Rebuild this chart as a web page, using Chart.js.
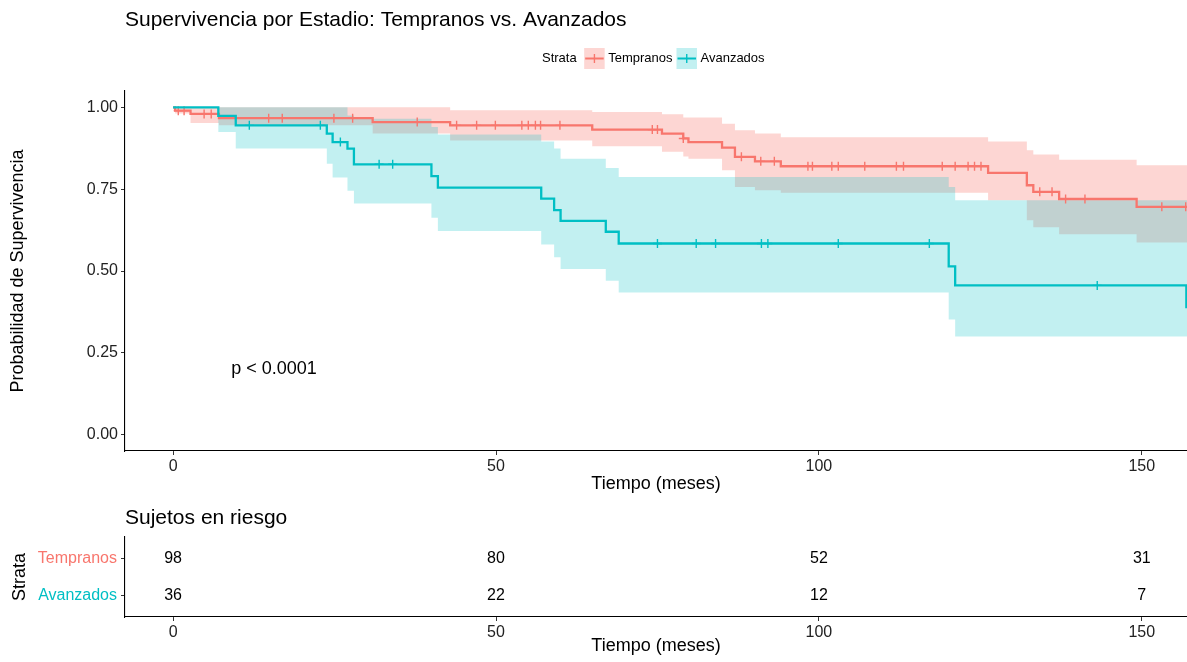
<!DOCTYPE html>
<html>
<head>
<meta charset="utf-8">
<script src="https://cdn.jsdelivr.net/npm/chart.js@4"></script>
<style>
  body { margin: 0; background: #fff; }
  #main { position: absolute; left: 0; top: 0; width: 1187px; height: 500px; }
  #risk { position: absolute; left: 0; top: 500px; width: 1187px; height: 162px; }
</style>
</head>
<body>
<div id="main"><canvas id="km"></canvas></div>
<div id="risk"><canvas id="rt"></canvas></div>
<script>
const FONT = '"Liberation Sans", Arial, Helvetica, sans-serif';
const RED = '#F8766D';
const TEAL = '#00BFC4';
const RED_BAND = 'rgba(248, 118, 109, 0.3)';
const TEAL_BAND = 'rgba(0, 191, 196, 0.24)';

const strata = ['Tempranos', 'Avanzados'];

// Tempranos: tiempos de evento, supervivencia e IC
const tempTime  = [0, 0.3, 2.7, 7.1, 30.9, 42.9, 64.9, 75.7, 79.0, 79.8, 85.0, 87.0, 90.1, 94.1, 126.2, 132.2, 133.2, 137.2, 149.2, 157.0];
const tempSurv  = [1.000, 0.990, 0.980, 0.967, 0.955, 0.945, 0.932, 0.920, 0.905, 0.894, 0.877, 0.849, 0.835, 0.820, 0.800, 0.762, 0.742, 0.720, 0.696, 0.696];
const tempUpper = [1.000, 1.000, 1.000, 1.000, 1.000, 0.991, 0.986, 0.979, 0.969, 0.969, 0.950, 0.930, 0.920, 0.909, 0.896, 0.869, 0.856, 0.840, 0.823, 0.823];
const tempLower = [1.000, 0.981, 0.952, 0.945, 0.920, 0.899, 0.881, 0.864, 0.850, 0.843, 0.808, 0.757, 0.747, 0.739, 0.716, 0.655, 0.634, 0.612, 0.587, 0.587];
const tempCens  = [0.8, 1.7, 4.8, 5.9, 14.8, 16.9, 24.9, 27.8, 37.8, 43.9, 47.0, 49.9, 54.0, 55.0, 56.1, 56.9, 59.9, 74.2, 75.0, 79.0, 88.0, 91.0, 93.1, 98.3, 99.0, 102.0, 103.0, 107.1, 112.0, 113.1, 119.1, 121.1, 123.1, 124.1, 125.1, 134.2, 136.1, 138.2, 141.2, 153.1, 156.8];

// Avanzados
const avzTime  = [0, 7.0, 9.7, 23.8, 24.7, 27.0, 28.0, 40.0, 41.0, 57.0, 59.0, 60.0, 67.0, 69.0, 120.1, 121.1, 156.9, 157.0];
const avzSurv  = [1.000, 0.974, 0.945, 0.920, 0.894, 0.874, 0.826, 0.790, 0.755, 0.721, 0.686, 0.653, 0.620, 0.584, 0.514, 0.456, 0.390, 0.390];
const avzUpper = [1.000, 1.000, 1.000, 1.000, 1.000, 0.975, 0.965, 0.940, 0.917, 0.896, 0.874, 0.843, 0.815, 0.787, 0.757, 0.716, 0.716, 0.716];
const avzLower = [1.000, 0.925, 0.874, 0.828, 0.786, 0.745, 0.706, 0.663, 0.622, 0.581, 0.542, 0.506, 0.470, 0.434, 0.352, 0.300, 0.300, 0.300];
const avzCens  = [11.8, 22.8, 25.9, 31.9, 34.0, 75.0, 81.0, 84.0, 91.1, 92.1, 103.0, 117.1, 143.1];

const xTicks = [0, 50, 100, 150];
const yTicks = [0, 0.25, 0.5, 0.75, 1];

// tabla de sujetos en riesgo
const riskTimes = [0, 50, 100, 150];
const riskTemp  = [98, 80, 52, 31];
const riskAvz   = [36, 22, 12, 7];

const pText = 'p < 0.0001';
const pPos = [9, 0.2];

const pts = (xs, ys) => xs.map((t, i) => ({x: t, y: ys[i]}));
function survAt(times, surv, t) {
    let v = surv[0];
    for (let i = 0; i < times.length; i++) if (times[i] <= t) v = surv[i];
    return v;
}
const censPts = (cens, times, surv) => cens.map(t => ({x: t, y: survAt(times, surv, t)}));

const lineDs = (data, color) => ({
    data, borderColor: color, borderWidth: 2.3, stepped: 'before',
    pointRadius: 0, fill: false
});
const censDs = (data, color) => ({
    data, showLine: false, pointStyle: 'cross', pointRadius: 4.5,
    pointBorderWidth: 1.4, pointBorderColor: color, borderColor: color
});
const bandDs = (data, color, fill) => ({
    data, borderWidth: 0, borderColor: 'rgba(0,0,0,0)', backgroundColor: color,
    stepped: 'before', pointRadius: 0, fill
});

const xScale = (height) => ({
    type: 'linear', min: -7.45, max: 157.0,
    afterBuildTicks: ax => { ax.ticks = xTicks.map(v => ({value: v})); },
    afterFit: ax => { ax.height = height; },
    grid: {drawOnChartArea: false, tickLength: 4, tickColor: '#333', tickWidth: 1},
    border: {color: '#000', width: 1.1},
    ticks: {font: {family: FONT, size: 16}, color: '#222', padding: 2, maxRotation: 0,
            callback: v => String(v)},
    title: {display: true, text: 'Tiempo (meses)', font: {family: FONT, size: 18}, color: '#000',
            padding: {top: 0, bottom: 5}}
});

const kmTexts = {
    id: 'kmTexts',
    afterDraw(chart) {
        const {ctx, scales: {x, y}} = chart;
        ctx.save();
        ctx.fillStyle = '#000';
        ctx.textBaseline = 'middle';
        ctx.textAlign = 'left';
        ctx.font = '21px ' + FONT;
        ctx.fillText('Supervivencia por Estadio: Tempranos vs. Avanzados', 125, 20);
        ctx.font = '18px ' + FONT;
        ctx.fillText(pText, x.getPixelForValue(pPos[0]), y.getPixelForValue(pPos[1]));
        // leyenda
        ctx.font = '13px ' + FONT;
        let lx = 542;
        ctx.fillText('Strata', lx, 58);
        lx += ctx.measureText('Strata').width + 7.5;
        const cols = [RED, TEAL], bands = [RED_BAND, TEAL_BAND];
        strata.forEach((name, i) => {
            ctx.fillStyle = bands[i];
            ctx.fillRect(lx, 48, 20.5, 21);
            ctx.strokeStyle = cols[i];
            ctx.lineWidth = 2;
            ctx.beginPath();
            ctx.moveTo(lx + 1, 58.5); ctx.lineTo(lx + 19.5, 58.5);
            ctx.stroke();
            ctx.lineWidth = 1.4;
            ctx.beginPath();
            ctx.moveTo(lx + 10.25, 54); ctx.lineTo(lx + 10.25, 63);
            ctx.stroke();
            ctx.fillStyle = '#000';
            ctx.fillText(name, lx + 24, 58);
            lx += 24 + ctx.measureText(name).width + 4;
        });
        ctx.restore();
    }
};

new Chart(document.getElementById('km'), {
    type: 'line',
    data: {
        datasets: [
            censDs(censPts(avzCens, avzTime, avzSurv), TEAL),
            lineDs(pts(avzTime, avzSurv), TEAL),
            censDs(censPts(tempCens, tempTime, tempSurv), RED),
            lineDs(pts(tempTime, tempSurv), RED),
            bandDs(pts(avzTime, avzUpper), TEAL_BAND, '+1'),
            bandDs(pts(avzTime, avzLower), TEAL_BAND, false),
            bandDs(pts(tempTime, tempUpper), RED_BAND, '+1'),
            bandDs(pts(tempTime, tempLower), RED_BAND, false)
        ]
    },
    options: {
        responsive: true,
        maintainAspectRatio: false,
        animation: false,
        layout: {autoPadding: false, padding: {top: 91, left: 0, right: 0, bottom: 0}},
        plugins: {legend: {display: false}, tooltip: {enabled: false}},
        scales: {
            x: xScale(49),
            y: {
                min: -0.05, max: 1.05,
                afterBuildTicks: ax => { ax.ticks = yTicks.map(v => ({value: v})); },
                afterFit: ax => { ax.width = 125; },
                grid: {drawOnChartArea: false, tickLength: 4, tickColor: '#333', tickWidth: 1},
                border: {color: '#000', width: 1.1},
                ticks: {font: {family: FONT, size: 16}, color: '#222', padding: 3,
                        callback: v => v.toFixed(2)},
                title: {display: true, text: 'Probabilidad de Supervivencia',
                        font: {family: FONT, size: 18}, color: '#000', padding: {top: 7, bottom: 0}}
            }
        }
    },
    plugins: [kmTexts]
});

const riskTexts = {
    id: 'riskTexts',
    afterDraw(chart) {
        const {ctx, scales: {x, y}} = chart;
        ctx.save();
        ctx.fillStyle = '#000';
        ctx.textBaseline = 'middle';
        ctx.textAlign = 'left';
        ctx.font = '21px ' + FONT;
        ctx.fillText('Sujetos en riesgo', 125, 18);
        ctx.font = '16px ' + FONT;
        ctx.textAlign = 'center';
        riskTimes.forEach((t, i) => {
            ctx.fillText(String(riskTemp[i]), x.getPixelForValue(t), y.getPixelForValue(2));
            ctx.fillText(String(riskAvz[i]), x.getPixelForValue(t), y.getPixelForValue(1));
        });
        ctx.restore();
    }
};

new Chart(document.getElementById('rt'), {
    type: 'line',
    data: {datasets: []},
    options: {
        responsive: true,
        maintainAspectRatio: false,
        animation: false,
        layout: {autoPadding: false, padding: {top: 37, left: 0, right: 0, bottom: 0}},
        plugins: {legend: {display: false}, tooltip: {enabled: false}},
        scales: {
            x: xScale(45),
            y: {
                type: 'linear', min: 0.4, max: 2.6,
                afterBuildTicks: ax => { ax.ticks = [{value: 1}, {value: 2}]; },
                afterFit: ax => { ax.width = 125; },
                grid: {drawOnChartArea: false, tickLength: 4, tickColor: '#333', tickWidth: 1},
                border: {color: '#000', width: 1.1},
                ticks: {font: {family: FONT, size: 16}, padding: 4,
                        color: c => (c.tick && c.tick.value === 2) ? RED : TEAL,
                        callback: v => v === 2 ? strata[0] : strata[1]},
                title: {display: true, text: 'Strata', font: {family: FONT, size: 18}, color: '#000',
                        padding: {top: 9, bottom: 0}}
            }
        }
    },
    plugins: [riskTexts]
});
</script>
</body>
</html>
